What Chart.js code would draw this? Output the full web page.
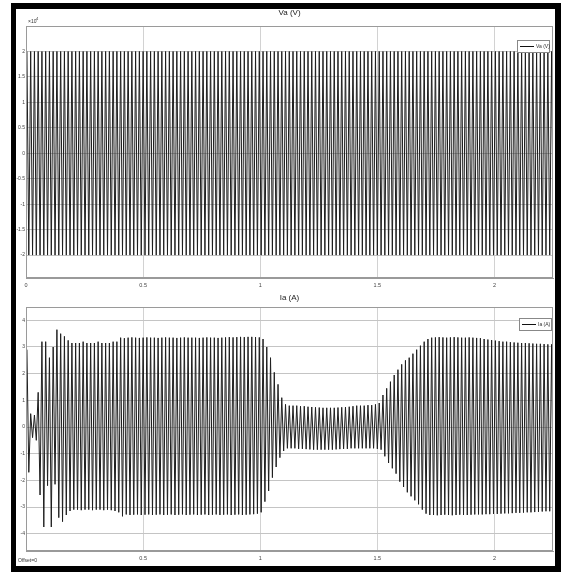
<!DOCTYPE html>
<html>
<head>
<meta charset="utf-8">
<script src="https://cdn.jsdelivr.net/npm/chart.js@4.4.0/dist/chart.umd.min.js"></script>
<style>
  html, body { margin: 0; padding: 0; background: #fff; }
  #page { position: relative; width: 561px; height: 572px; overflow: hidden; background: #fff; }
  #page canvas { position: absolute; left: 0; }
  #vaCanvas { top: 0; }
  #iaCanvas { top: 290px; }
  #frame { position: absolute; left: 11px; top: 3px; width: 550px; height: 569px; box-sizing: border-box; border: 6px solid #000; border-left-width: 5px; pointer-events: none; }
</style>
</head>
<body>
<div id="page">
  <canvas id="vaCanvas" width="561" height="290"></canvas>
  <canvas id="iaCanvas" width="561" height="282"></canvas>
  <div id="frame"></div>
</div>
<script>
// one cycle of the waveform in seconds
const period = 0.016;

// tick values of the scope axes
const timeTicks = [0, 0.5, 1, 1.5, 2];
const vaTicks = [-2, -1.5, -1, -0.5, 0, 0.5, 1, 1.5, 2];
const iaTicks = [-4, -3, -2, -1, 0, 1, 2, 3, 4];

// Va peak per cycle (x10^4 V), the trough is the same value below zero
const vaPeak = [
  2, 2, 2, 2, 2, 2, 2, 2, 2, 2, 2, 2, 2, 2, 2, 2, 2, 2, 2, 2,
  2, 2, 2, 2, 2, 2, 2, 2, 2, 2, 2, 2, 2, 2, 2, 2, 2, 2, 2, 2,
  2, 2, 2, 2, 2, 2, 2, 2, 2, 2, 2, 2, 2, 2, 2, 2, 2, 2, 2, 2,
  2, 2, 2, 2, 2, 2, 2, 2, 2, 2, 2, 2, 2, 2, 2, 2, 2, 2, 2, 2,
  2, 2, 2, 2, 2, 2, 2, 2, 2, 2, 2, 2, 2, 2, 2, 2, 2, 2, 2, 2,
  2, 2, 2, 2, 2, 2, 2, 2, 2, 2, 2, 2, 2, 2, 2, 2, 2, 2, 2, 2,
  2, 2, 2, 2, 2, 2, 2, 2, 2, 2, 2, 2, 2, 2, 2, 2, 2, 2, 2, 2,
  2
];

// Ia positive peak per cycle (A)
const iaPos = [
  2.9, 0.5, 0.45, 1.3, 3.2, 3.2, 2.6, 3.0, 3.65, 3.5, 3.4, 3.25,
  3.15, 3.15, 3.15, 3.2, 3.15, 3.15, 3.15, 3.2, 3.15, 3.15, 3.15, 3.2, 3.2,
  3.35, 3.33, 3.35, 3.36, 3.35, 3.34, 3.35, 3.36, 3.35, 3.35,
  3.34, 3.35, 3.36, 3.35, 3.35, 3.34, 3.35, 3.36, 3.35, 3.35,
  3.35, 3.34, 3.35, 3.36, 3.35, 3.35, 3.34, 3.35, 3.36, 3.37,
  3.36, 3.37, 3.38, 3.37, 3.38, 3.38, 3.37, 3.36,
  3.3, 3.0, 2.6, 2.05, 1.6, 1.1, 0.85,
  0.8, 0.8, 0.8, 0.78, 0.78, 0.76, 0.75, 0.74, 0.73, 0.72, 0.72, 0.72,
  0.72, 0.73, 0.74, 0.75, 0.76, 0.78, 0.8, 0.8, 0.8, 0.82, 0.82, 0.85,
  0.9, 1.2, 1.45, 1.7, 1.95, 2.15, 2.35, 2.5, 2.6, 2.75, 2.9, 3.05, 3.2, 3.3,
  3.35, 3.36, 3.37, 3.36, 3.35, 3.36, 3.37, 3.36, 3.35, 3.35, 3.36, 3.35, 3.34,
  3.33, 3.3, 3.28, 3.26, 3.24, 3.22, 3.2, 3.2,
  3.18, 3.17, 3.16, 3.15, 3.15, 3.14, 3.13, 3.12, 3.12, 3.11, 3.1, 3.1
];

// Ia negative peak per cycle (A)
const iaNeg = [
  -1.7, -0.4, -0.5, -2.55, -3.75, -2.2, -3.75, -2.15, -3.4, -3.55, -3.3, -3.15,
  -3.1, -3.1, -3.12, -3.1, -3.1, -3.12, -3.1, -3.1, -3.12, -3.1, -3.12, -3.15, -3.2,
  -3.35,
  -3.28, -3.3, -3.29, -3.28, -3.3, -3.29, -3.28, -3.3, -3.29, -3.28,
  -3.3, -3.29, -3.28, -3.3, -3.29, -3.28, -3.3, -3.29, -3.28, -3.3,
  -3.29, -3.28, -3.3, -3.29, -3.28, -3.3, -3.29, -3.28, -3.3, -3.29,
  -3.28, -3.3, -3.29, -3.28, -3.27,
  -3.25, -3.2, -2.8, -2.4, -1.9, -1.5, -1.15, -0.9, -0.8,
  -0.8, -0.8, -0.82, -0.82, -0.83, -0.84, -0.85, -0.85, -0.85, -0.85, -0.85, -0.85,
  -0.84, -0.83, -0.82, -0.82, -0.8, -0.8, -0.8, -0.8, -0.8, -0.8, -0.8, -0.82,
  -0.85, -1.1, -1.35, -1.55, -1.75, -2.05, -2.25, -2.45, -2.6, -2.75, -2.9, -3.1, -3.25, -3.3,
  -3.3, -3.31, -3.3, -3.29, -3.3, -3.31, -3.3, -3.29, -3.3, -3.3, -3.29, -3.28, -3.28,
  -3.28, -3.27, -3.27, -3.26, -3.26, -3.25, -3.24, -3.24, -3.23, -3.22,
  -3.22, -3.21, -3.2, -3.2, -3.19, -3.18, -3.17, -3.16, -3.16, -3.15
];

const FONT = "'Liberation Sans', 'DejaVu Sans', sans-serif";

// peak then trough for every cycle
const toPoints = (pos, neg) => {
  const pts = [];
  pos.forEach((p, k) => {
    pts.push({x: (k + 0.25) * period, y: p});
    pts.push({x: (k + 0.75) * period, y: neg[k]});
  });
  return pts;
};

// scope box, legend and small labels
const scopeDecor = {
  id: 'scopeDecor',
  afterDraw(chart, args, opts) {
    const {ctx, chartArea: a} = chart;
    ctx.save();
    ctx.strokeStyle = '#9a9a9a';
    ctx.lineWidth = 1;
    ctx.strokeRect(Math.round(a.left) + 0.5, Math.round(a.top) + 0.5,
      Math.round(a.right - a.left) - 1, Math.round(a.bottom - a.top) - 1);

    const lx = a.right - opts.legendRight - 32;
    const ly = a.top + opts.legendTop;
    ctx.fillStyle = '#fff';
    ctx.fillRect(lx, ly, 32, 12);
    ctx.strokeStyle = '#888';
    ctx.strokeRect(lx + 0.5, ly + 0.5, 32, 12);
    ctx.strokeStyle = '#111';
    ctx.beginPath();
    ctx.moveTo(lx + 3, ly + 6.5);
    ctx.lineTo(lx + 17, ly + 6.5);
    ctx.stroke();
    ctx.fillStyle = '#333';
    ctx.font = '5px ' + FONT;
    ctx.textBaseline = 'middle';
    ctx.fillText(chart.data.datasets[0].label, lx + 19, ly + 6.5);

    if (opts.exponent) {
      ctx.font = '5px ' + FONT;
      ctx.textBaseline = 'alphabetic';
      ctx.fillText('\u00d710', a.left + 2, a.top - 3);
      ctx.font = '4px ' + FONT;
      ctx.fillText(opts.exponent, a.left + 10, a.top - 6);
    }
    if (opts.offset) {
      ctx.font = '5px ' + FONT;
      ctx.textBaseline = 'middle';
      ctx.fillText(opts.offset, 18, a.bottom + 10);
    }
    ctx.restore();
  }
};

function scopeChart(id, cfg) {
  return new Chart(document.getElementById(id), {
    type: 'line',
    data: {
      datasets: [{
        label: cfg.label,
        data: cfg.data,
        borderColor: '#1e1e1e',
        borderWidth: 1,
        pointRadius: 0,
        tension: 0,
      }],
    },
    options: {
      responsive: false,
      animation: false,
      events: [],
      layout: {padding: {left: 12, right: 8, top: 0, bottom: 0}},
      plugins: {
        legend: {display: false},
        tooltip: {enabled: false},
        title: {
          display: true,
          text: cfg.title,
          fullSize: false,
          color: '#222',
          font: {family: FONT, size: 8, weight: 'normal'},
          padding: cfg.titlePadding,
        },
        scopeDecor: cfg.decor,
      },
      scales: {
        x: {
          type: 'linear',
          min: 0,
          max: 2.25,
          afterBuildTicks: (s) => { s.ticks = timeTicks.map((v) => ({value: v})); },
          afterFit: (s) => { s.height = cfg.xHeight; },
          grid: {color: '#d2d2d2', drawTicks: false},
          border: {color: '#9a9a9a'},
          ticks: {
            font: {family: FONT, size: 5.5},
            color: '#444',
            padding: 4,
            maxRotation: 0,
            callback: (v) => (cfg.hideZero && v === 0 ? '' : String(v)),
          },
        },
        y: {
          min: cfg.yMin,
          max: cfg.yMax,
          afterBuildTicks: (s) => { s.ticks = cfg.yTicks.map((v) => ({value: v})); },
          afterFit: (s) => { s.width = 14; },
          grid: {color: '#c4c4c4', drawTicks: false},
          border: {color: '#9a9a9a'},
          ticks: {
            font: {family: FONT, size: 5},
            color: '#444',
            padding: 1,
            callback: (v) => String(v),
          },
        },
      },
    },
    plugins: [scopeDecor],
  });
}

scopeChart('vaCanvas', {
  label: 'Va (V)',
  title: 'Va (V)',
  data: toPoints(vaPeak, vaPeak.map((v) => -v)),
  yMin: -2.45,
  yMax: 2.5,
  yTicks: vaTicks,
  xHeight: 12,
  titlePadding: {top: 8, bottom: 8.4},
  decor: {legendRight: 4, legendTop: 14, exponent: '4'},
});

scopeChart('iaCanvas', {
  label: 'Ia (A)',
  title: 'Ia (A)',
  data: toPoints(iaPos, iaNeg),
  yMin: -4.65,
  yMax: 4.5,
  yTicks: iaTicks,
  xHeight: 21,
  hideZero: true,
  titlePadding: {top: 3, bottom: 4.4},
  decor: {legendRight: 2, legendTop: 11, offset: 'Offset=0'},
});
</script>
</body>
</html>
